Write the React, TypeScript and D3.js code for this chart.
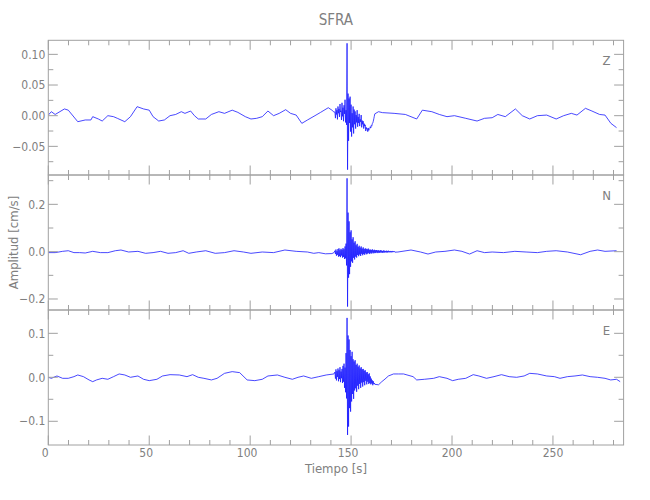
import React from "react";
import * as d3 from "d3";

// ---------- data (time [s], amplitude [cm/s]) ----------
const xTicks = [0, 50, 100, 150, 200, 250];

const zPre: [number, number][] = [
  [0, 0.001], [1.5, 0.0065], [3.4, 0.002], [8.0, 0.011], [9.9, 0.009], [14.6, -0.0098],
  [18.3, -0.007], [21.1, -0.007], [22.0, -0.0016], [24.8, -0.0054], [26.7, -0.0087],
  [29.5, 0], [32.3, -0.0016], [34.2, -0.0043], [37.9, -0.0098], [40.7, -0.0016],
  [44.0, 0.0147], [47.2, 0.011], [50.0, 0.009], [51.9, -0.0016], [54.7, -0.0087],
  [57.5, -0.007], [60.3, 0], [63.1, 0.002], [65.9, 0.0065], [67.7, 0.0038], [70.5, 0.0076],
  [72.4, 0], [74.3, -0.0054], [78.0, -0.0054], [80.8, 0.002], [84.5, 0.0065], [87.3, 0.0038],
  [91.1, 0.009], [93.9, 0.0054], [97.6, -0.0016], [100.4, -0.0054], [103.2, -0.0043],
  [106.0, -0.0016], [108.8, 0.0076], [111.6, 0], [114.4, 0.0038], [117.6, 0.0098],
  [120.0, 0.0038], [122.8, 0.001], [125.6, -0.0125], [128.4, -0.007], [132.1, 0],
  [134.9, 0.0054], [138.7, 0.013], [140.5, 0.009], [141.5, 0.006],
];
const zEvent = [
  0.006, -0.004, 0.012, 0.002, 0.009, -0.006, 0.015, 0.004,
  0.011, -0.002, 0.019, 0.006, 0.008, -0.007, 0.021, -0.001,
  0.013, -0.009, 0.017, 0.003, 0.026, -0.011, 0.009, -0.015,
  0.118, -0.088, 0.036, -0.041, 0.028, -0.012, 0.031, -0.026,
  0.018, -0.034, 0.004, -0.019, 0.015, -0.029, 0.010, -0.014,
  0.007, -0.021, 0.001, -0.011, 0.009, -0.018, -0.002, -0.012,
  0.003, -0.017, -0.006, -0.010, 0.001, -0.019, -0.008, -0.014,
  -0.009, -0.021, -0.013, -0.017, -0.015, -0.025, -0.019, -0.022,
  -0.021, -0.026, -0.020, -0.024, -0.022, -0.021, -0.018, -0.020,
  -0.016, -0.017, -0.013, -0.012, -0.009, -0.005, -0.001, 0.003,
];
const zPost: [number, number][] = [
  [163.6, 0.0065], [165.5, 0.005], [171.3, 0.0038], [176.9, 0.002], [182.5, -0.0054],
  [185.3, 0.009], [190.0, 0.0065], [193.7, 0.002], [197.5, -0.0016], [201.2, 0],
  [206.8, -0.0043], [212.4, -0.0087], [216.1, -0.0043], [219.9, -0.0033], [222.7, 0.002],
  [226.4, -0.0016], [231.4, 0.011], [234.8, 0], [238.5, -0.0054], [242.3, 0], [246.9, 0.001],
  [251.6, -0.0054], [255.3, 0], [259.1, 0.0038], [261.9, 0.001], [266.1, 0.012],
  [269.3, 0.0076], [273.1, 0.002], [275.8, 0.001], [278.7, -0.0125], [281.5, -0.0195],
];

const nPre: [number, number][] = [
  [0, -0.004], [3.4, -0.004], [7.1, 0.0014], [9.9, 0.004], [12.7, -0.004], [15.5, -0.004],
  [18.3, -0.0056], [22.0, 0.0014], [25.8, -0.004], [29.5, -0.004], [33.2, 0.004], [36.0, 0.007],
  [39.8, -0.0014], [44.4, 0.0014], [48.2, -0.007], [51.9, -0.004], [55.6, 0.0014], [59.3, -0.007],
  [63.1, -0.004], [66.8, 0.004], [69.6, -0.007], [73.3, -0.0014], [78.0, 0.004], [82.7, -0.007],
  [87.3, -0.004], [92.0, 0.004], [96.7, -0.0014], [100.4, -0.007], [106.0, -0.0014],
  [111.6, -0.004], [117.2, 0.007], [122.8, 0.0014], [128.4, -0.0014], [131.5, -0.007],
  [134.0, -0.004], [137.3, -0.009], [140.5, -0.008], [141.5, -0.004],
];
const nEvent = [
  0.004, -0.010, 0.009, -0.017, 0.002, -0.013, 0.011, -0.021,
  0.014, -0.019, 0.006, -0.023, 0.012, -0.016, 0.008, -0.025,
  0.015, -0.022, 0.010, -0.031, 0.022, -0.028, 0.034, -0.058,
  0.310, -0.232, 0.165, -0.110, 0.128, -0.095, 0.082, -0.064,
  0.090, -0.041, 0.052, -0.047, 0.061, -0.026, 0.038, -0.033,
  0.044, -0.021, 0.027, -0.025, 0.033, -0.014, 0.020, -0.019,
  0.025, -0.012, 0.017, -0.018, 0.022, -0.009, 0.013, -0.015,
  0.018, -0.010, 0.011, -0.013, 0.014, -0.007, 0.012, -0.011,
  0.010, -0.008, 0.013, -0.006, 0.008, -0.010, 0.009, -0.005,
  0.007, -0.008, 0.010, -0.004, 0.006, -0.007, 0.008, -0.005,
  0.006, -0.006, 0.007, -0.003, 0.005, -0.006, 0.006, -0.004,
  0.004, -0.005, 0.006, -0.003, 0.005, -0.004, 0.003, -0.005,
  0.005, -0.003, 0.004, -0.004, 0.003, -0.002, 0.004, -0.004,
  0.003, -0.003, 0.004, -0.002, 0.002, -0.003, 0.003, -0.002,
  0.002, -0.003, 0.003, -0.001, 0.002, -0.002, 0.001, -0.002,
];
const nPost: [number, number][] = [
  [173.2, -0.0014], [179.7, 0.007], [184.4, -0.0014], [188.1, -0.01], [191.9, -0.0014],
  [196.5, 0.0014], [201.2, 0.007], [204.9, 0.0014], [208.7, -0.01], [212.4, 0.004],
  [216.1, -0.004], [219.9, -0.0014], [225.5, -0.004], [231.1, 0.0014], [236.7, -0.0014],
  [242.3, -0.004], [246.9, 0.0014], [251.6, 0.004], [257.2, -0.0014], [263.7, -0.013],
  [268.4, 0.0014], [272.1, 0.007], [275.8, 0.0014], [281.5, 0.004],
];

const ePre: [number, number][] = [
  [0, 0], [1.5, -0.0023], [4.3, 0.003], [7.1, -0.0023], [9.9, -0.0023], [12.7, 0.0015],
  [14.6, 0.0053], [17.4, 0.0015], [20.2, -0.006], [22.0, -0.0099], [23.9, -0.006],
  [26.7, -0.0023], [29.5, -0.0045], [32.3, 0.0015], [35.1, 0.0076], [37.9, 0.0053],
  [40.7, 0], [44.4, 0.003], [47.2, -0.0045], [50.0, -0.0076], [53.8, -0.0045], [56.6, 0.003],
  [60.3, 0.006], [64.9, 0.0053], [68.7, 0.0015], [71.5, 0.006], [74.3, 0], [77.1, -0.0023],
  [80.8, -0.006], [83.6, -0.0023], [87.3, 0.009], [91.1, 0.0129], [94.8, 0.0106],
  [98.5, -0.006], [102.3, -0.0076], [106.0, -0.0045], [108.8, 0.003], [113.5, 0.0053],
  [117.2, 0], [120.9, -0.0045], [123.7, 0], [126.5, 0.003], [130.3, -0.0023], [134.0, 0.0015],
  [137.7, 0.0053], [141.5, 0.0076],
];
const eEvent = [
  0.012, -0.003, 0.018, -0.007, 0.014, 0.001, 0.020, -0.009,
  0.016, -0.004, 0.023, -0.011, 0.013, -0.002, 0.019, -0.013,
  0.026, -0.010, 0.031, -0.024, 0.022, -0.034, 0.055, -0.048,
  0.135, -0.131, 0.095, -0.112, 0.086, -0.070, 0.062, -0.078,
  0.048, -0.055, 0.058, -0.038, 0.041, -0.049, 0.036, -0.030,
  0.039, -0.025, 0.028, -0.033, 0.031, -0.019, 0.024, -0.027,
  0.027, -0.015, 0.020, -0.024, 0.023, -0.012, 0.018, -0.021,
  0.019, -0.011, 0.015, -0.018, 0.016, -0.008, 0.011, -0.016,
  0.012, -0.010, 0.007, -0.015, 0.009, -0.013, 0.002, -0.016,
  -0.003, -0.014, -0.007, -0.018, -0.009, -0.015, -0.013, -0.016,
];
const ePost: [number, number][] = [
  [163.6, -0.017], [165.2, -0.010], [166.8, -0.004], [168.5, 0.003], [171.0, 0.0076],
  [173.5, 0.0076], [176.0, 0.0076], [180.7, 0.0015], [182.5, -0.006], [186.3, -0.0045],
  [190.9, -0.0023], [193.7, 0.0015], [197.5, -0.0023], [200.3, -0.0076], [203.1, -0.0045],
  [206.8, -0.0023], [210.5, 0.006], [213.3, 0.003], [217.1, -0.0023], [220.8, 0.0015],
  [224.5, 0.006], [228.3, 0.0015], [232.0, 0], [235.7, 0.003], [238.5, 0.009],
  [242.3, 0.0076], [246.9, 0.003], [250.7, 0.0015], [253.5, -0.0023], [257.2, 0.0015],
  [260.9, 0.003], [264.6, 0.0053], [268.4, 0.0015], [272.1, 0], [275.8, -0.0023],
  [278.6, -0.006], [281.5, -0.0045], [283.3, -0.0099],
];

const eventStart = 142;
const eventStep = 0.25;

// ---------- layout ----------
const W = 650;
const H = 500;
const left = 48.3;
const right = 623.6;
const FONT = "'Liberation Sans Narrow', 'DejaVu Sans Condensed', 'Roboto Condensed', sans-serif";
const AXIS = "#a0a0a0";
const TEXT = "#808080";
const LINE = "#1a1aff";

type Panel = {
  name: string;
  top: number;
  bottom: number;
  domain: [number, number];
  major: number[];
  minor: number[];
  fmt: (v: number) => string;
  pre: [number, number][];
  ev: number[];
  post: [number, number][];
};

const fmt2 = (v: number) => (v < 0 ? "\u2212" : "") + Math.abs(v).toFixed(2);
const fmt1 = (v: number) => (v < 0 ? "\u2212" : "") + Math.abs(v).toFixed(1);

const panels: Panel[] = [
  {
    name: "Z", top: 40.3, bottom: 175, domain: [-0.0967, 0.1229],
    major: [0.1, 0.05, 0, -0.05], minor: [0.075, 0.025, -0.025, -0.075],
    fmt: fmt2, pre: zPre, ev: zEvent, post: zPost,
  },
  {
    name: "N", top: 175, bottom: 310, domain: [-0.2465, 0.324],
    major: [0.2, 0, -0.2], minor: [0.3, 0.1, -0.1],
    fmt: fmt1, pre: nPre, ev: nEvent, post: nPost,
  },
  {
    name: "E", top: 310, bottom: 445, domain: [-0.1539, 0.153],
    major: [0.1, 0, -0.1], minor: [0.05, -0.05],
    fmt: fmt1, pre: ePre, ev: eEvent, post: ePost,
  },
];

const x = d3.scaleLinear().domain([0, 285]).range([left, right]);
const xMinor = d3.range(0, 285, 10).filter((v) => v % 50 !== 0);

function PanelView({ p, idx, last }: { p: Panel; idx: number; last: boolean }) {
  const y = d3.scaleLinear().domain(p.domain).range([p.bottom, p.top]);
  const evPts: [number, number][] = p.ev.map((v, i) => [eventStart + i * eventStep, v]);
  const pts = [...p.pre, ...evPts, ...p.post];
  const line = d3
    .line<[number, number]>()
    .x((d) => x(d[0]))
    .y((d) => y(d[1]));
  const clipId = `clip-${idx}`;
  const MAJ = 9.5;
  const MIN = 5;
  return (
    <g>
      <defs>
        <clipPath id={clipId}>
          <rect x={left} y={p.top} width={right - left} height={p.bottom - p.top} />
        </clipPath>
      </defs>
      <path d={line(pts) || ""} fill="none" stroke={LINE} strokeWidth={0.8} clipPath={`url(#${clipId})`} />
      <rect x={left} y={p.top} width={right - left} height={p.bottom - p.top} fill="none" stroke={AXIS} strokeWidth={1} />
      {xTicks.map((t) => (
        <g key={"xM" + t}>
          <line x1={x(t)} x2={x(t)} y1={p.top} y2={p.top + MAJ} stroke={AXIS} />
          <line x1={x(t)} x2={x(t)} y1={p.bottom} y2={p.bottom - MAJ} stroke={AXIS} />
        </g>
      ))}
      {xMinor.map((t) => (
        <g key={"xm" + t}>
          <line x1={x(t)} x2={x(t)} y1={p.top} y2={p.top + MIN} stroke={AXIS} />
          <line x1={x(t)} x2={x(t)} y1={p.bottom} y2={p.bottom - MIN} stroke={AXIS} />
        </g>
      ))}
      {p.major.map((v) => (
        <g key={"yM" + v}>
          <line x1={left} x2={left + MAJ} y1={y(v)} y2={y(v)} stroke={AXIS} />
          <line x1={right} x2={right - MAJ} y1={y(v)} y2={y(v)} stroke={AXIS} />
          <text x={left - 3} y={y(v)} dy="0.35em" textAnchor="end" fontSize={12} fill={TEXT} fontFamily={FONT}>
            {p.fmt(v)}
          </text>
        </g>
      ))}
      {p.minor.map((v) => (
        <g key={"ym" + v}>
          <line x1={left} x2={left + MIN} y1={y(v)} y2={y(v)} stroke={AXIS} />
          <line x1={right} x2={right - MIN} y1={y(v)} y2={y(v)} stroke={AXIS} />
        </g>
      ))}
      <text x={606.5} y={p.top + 25} textAnchor="middle" fontSize={13} fill={TEXT} fontFamily={FONT}>
        {p.name}
      </text>
      {last &&
        xTicks.map((t) => (
          <text key={"xl" + t} x={x(t) - (t < 200 ? 3 : 0)} y={457} textAnchor="middle" fontSize={12} fill={TEXT} fontFamily={FONT}>
            {t}
          </text>
        ))}
    </g>
  );
}

export default function App() {
  return (
    <svg
      width={W}
      height={H}
      viewBox={`0 0 ${W} ${H}`}
      style={{ position: "absolute", left: 0, top: 0, background: "#fff" }}
    >
      <rect x={0} y={0} width={W} height={H} fill="#fff" />
      <text x={(left + right) / 2} y={25} textAnchor="middle" fontSize={15} fill={TEXT} fontFamily={FONT}>
        SFRA
      </text>
      {panels.map((p, i) => (
        <PanelView key={p.name} p={p} idx={i} last={i === panels.length - 1} />
      ))}
      <text x={(left + right) / 2} y={473} textAnchor="middle" fontSize={13} fill={TEXT} fontFamily={FONT}>
        Tiempo [s]
      </text>
      <text
        transform={`translate(18, 242.5) rotate(-90)`}
        textAnchor="middle"
        fontSize={13}
        fill={TEXT}
        fontFamily={FONT}
      >
        Amplitud [cm/s]
      </text>
    </svg>
  );
}
